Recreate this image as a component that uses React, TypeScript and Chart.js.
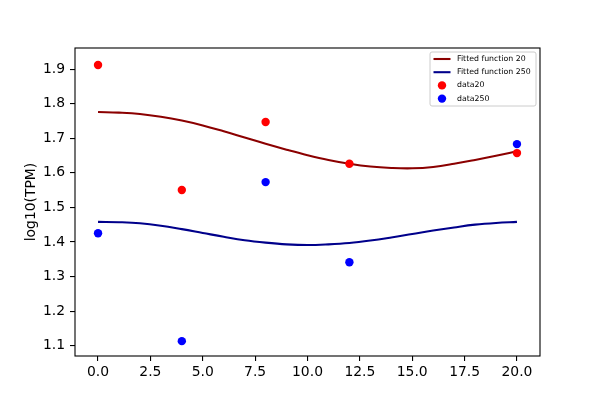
import React, { useEffect, useRef } from 'react';
import { Chart, registerables } from 'chart.js';

Chart.register(...registerables);

// pontos medidos
const timePoints = [0, 4, 8, 12, 20];
const data20 = [1.912, 1.55, 1.747, 1.626, 1.657];
const data250 = [1.425, 1.113, 1.573, 1.341, 1.683];

// curvas ajustadas
const fitX = [0, 1, 2, 3, 4, 5, 6, 7, 8, 9, 10, 11, 12, 13, 14, 15, 16, 17, 18, 19, 20];
const fit20 = [1.776, 1.774, 1.77, 1.762, 1.751, 1.737, 1.72, 1.702, 1.684, 1.667, 1.651, 1.637, 1.626, 1.618, 1.614, 1.613, 1.617, 1.626, 1.637, 1.649, 1.662];
const fit250 = [1.458, 1.457, 1.454, 1.447, 1.437, 1.426, 1.415, 1.405, 1.398, 1.393, 1.391, 1.393, 1.397, 1.404, 1.413, 1.423, 1.433, 1.442, 1.45, 1.455, 1.458];

const xTicks = [0, 2.5, 5, 7.5, 10, 12.5, 15, 17.5, 20];
const yTicks = [1.1, 1.2, 1.3, 1.4, 1.5, 1.6, 1.7, 1.8, 1.9];

const FONT = 'DejaVu Sans';

const toPoints = (xs: number[], ys: number[]) => xs.map((x, i) => ({ x, y: ys[i] }));

// moldura completa do eixo (estilo matplotlib)
const framePlugin = {
  id: 'frame',
  afterDatasetsDraw(chart: any) {
    const { ctx, chartArea } = chart;
    ctx.save();
    ctx.strokeStyle = '#000';
    ctx.lineWidth = 1.1;
    ctx.strokeRect(chartArea.left, chartArea.top, chartArea.right - chartArea.left, chartArea.bottom - chartArea.top);
    ctx.restore();
  },
};

// legenda dentro da área, canto superior direito
const legendPlugin = {
  id: 'innerLegend',
  afterDraw(chart: any) {
    const { ctx, chartArea } = chart;
    const boxW = 106;
    const boxH = 54;
    const x0 = chartArea.right - 4 - boxW;
    const y0 = chartArea.top + 4;
    ctx.save();
    ctx.beginPath();
    ctx.roundRect(x0, y0, boxW, boxH, 2);
    ctx.fillStyle = 'rgba(255,255,255,0.8)';
    ctx.fill();
    ctx.strokeStyle = '#cccccc';
    ctx.lineWidth = 1;
    ctx.stroke();
    ctx.font = `7.8px "${FONT}"`;
    ctx.textBaseline = 'middle';
    chart.data.datasets.forEach((ds: any, i: number) => {
      const cy = y0 + 7 + i * 13.2;
      if (ds.showLine) {
        ctx.strokeStyle = ds.borderColor;
        ctx.lineWidth = 2.08;
        ctx.beginPath();
        ctx.moveTo(x0 + 3.5, cy);
        ctx.lineTo(x0 + 20.5, cy);
        ctx.stroke();
      } else {
        ctx.fillStyle = ds.backgroundColor;
        ctx.beginPath();
        ctx.arc(x0 + 12, cy, 4.2, 0, Math.PI * 2);
        ctx.fill();
      }
      ctx.fillStyle = '#000';
      ctx.fillText(ds.label, x0 + 27, cy);
    });
    ctx.restore();
  },
};

const App: React.FC = () => {
  const chartRef = useRef<HTMLCanvasElement | null>(null);
  const chartInstanceRef = useRef<Chart | null>(null);

  useEffect(() => {
    document.body.style.margin = '0';
    if (!chartRef.current) return;
    const ctx = chartRef.current.getContext('2d');
    if (!ctx) return;
    if (chartInstanceRef.current) chartInstanceRef.current.destroy();

    chartInstanceRef.current = new Chart(ctx, {
      type: 'scatter',
      data: {
        datasets: [
          {
            label: 'Fitted function 20',
            data: toPoints(fitX, fit20),
            showLine: true,
            borderColor: '#8b0000',
            backgroundColor: '#8b0000',
            borderWidth: 2.08,
            pointRadius: 0,
            tension: 0.4,
            order: 3,
          },
          {
            label: 'Fitted function 250',
            data: toPoints(fitX, fit250),
            showLine: true,
            borderColor: '#00008b',
            backgroundColor: '#00008b',
            borderWidth: 2.08,
            pointRadius: 0,
            tension: 0.4,
            order: 2,
          },
          {
            label: 'data20',
            data: toPoints(timePoints, data20),
            showLine: false,
            backgroundColor: '#ff0000',
            borderColor: '#ff0000',
            borderWidth: 0,
            pointRadius: 4.2,
            order: 0,
          },
          {
            label: 'data250',
            data: toPoints(timePoints, data250),
            showLine: false,
            backgroundColor: '#0000ff',
            borderColor: '#0000ff',
            borderWidth: 0,
            pointRadius: 4.2,
            order: 1,
          },
        ] as any,
      },
      options: {
        responsive: false,
        animation: false,
        devicePixelRatio: 1,
        layout: { padding: { top: 48, right: 60, left: 0, bottom: 0 } },
        plugins: {
          legend: { display: false },
          tooltip: { enabled: false },
        },
        scales: {
          x: {
            type: 'linear',
            min: -1.1,
            max: 21.1,
            afterBuildTicks: (scale: any) => {
              scale.ticks = xTicks.map((v) => ({ value: v }));
            },
            afterFit: (scale: any) => {
              scale.height = 44;
            },
            border: { display: false },
            grid: { display: true, drawOnChartArea: false, drawTicks: true, tickLength: 5, color: '#000', lineWidth: 1.1 },
            ticks: {
              color: '#000',
              padding: 3,
              maxRotation: 0,
              font: { family: FONT, size: 13.9 },
              callback: (v: any) => Number(v).toFixed(1),
            },
          },
          y: {
            type: 'linear',
            min: 1.07,
            max: 1.961,
            afterBuildTicks: (scale: any) => {
              scale.ticks = yTicks.map((v) => ({ value: v }));
            },
            afterFit: (scale: any) => {
              scale.width = 75;
            },
            border: { display: false },
            grid: { display: true, drawOnChartArea: false, drawTicks: true, tickLength: 5, color: '#000', lineWidth: 1.1 },
            ticks: {
              color: '#000',
              padding: 5,
              font: { family: FONT, size: 13.9 },
              callback: (v: any) => Number(v).toFixed(1),
            },
            title: {
              display: true,
              text: 'log10(TPM)',
              color: '#000',
              font: { family: FONT, size: 13.9 },
              padding: { top: 23, bottom: 0 },
            },
          },
        },
      },
      plugins: [framePlugin, legendPlugin],
    });

    return () => {
      if (chartInstanceRef.current) {
        chartInstanceRef.current.destroy();
        chartInstanceRef.current = null;
      }
    };
  }, []);

  return (
    <div style={{ width: 600, height: 400 }}>
      <canvas ref={chartRef} width={600} height={400} />
    </div>
  );
};

export default App;
